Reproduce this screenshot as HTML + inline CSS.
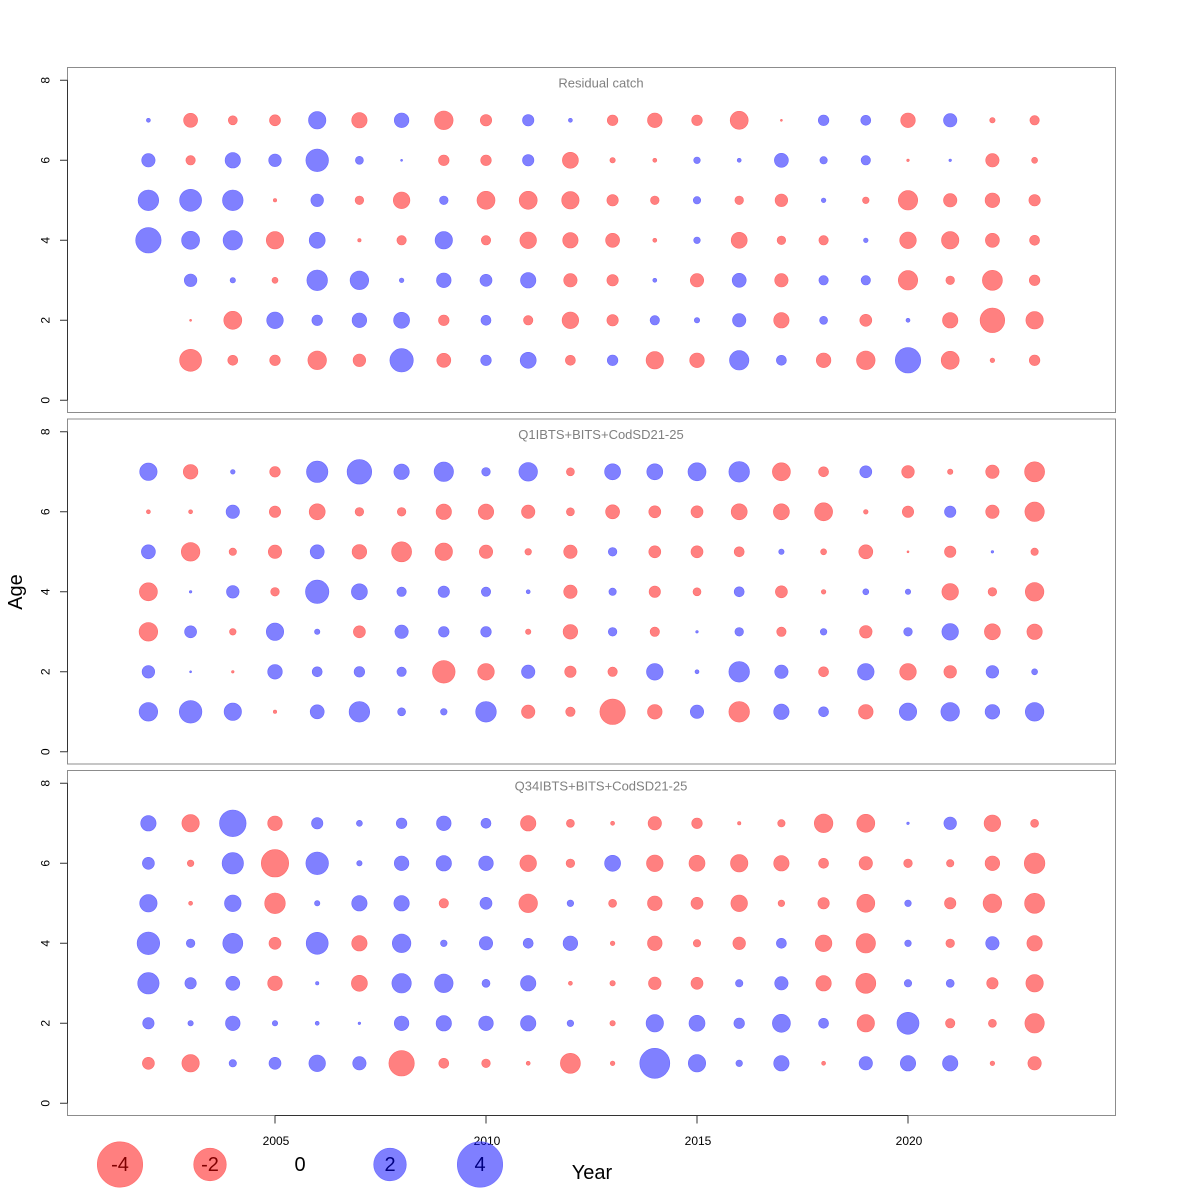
<!DOCTYPE html>
<html><head><meta charset="utf-8"><style>
html,body{margin:0;padding:0;background:#fff;}
svg{display:block;font-family:"Liberation Sans",Arial,sans-serif;}
.n{fill:#ff8080;stroke:#ff6a6a;stroke-width:0.6}
.p{fill:#8080ff;stroke:#6a6aff;stroke-width:0.6}
.box{fill:none;stroke:#8c8c8c;stroke-width:1}
.ax{stroke:#333;stroke-width:1;fill:none}
.yl{font-size:12px;fill:#000}
.tt{font-size:13px;fill:#808080}
</style></head><body>
<svg width="1200" height="1200" viewBox="0 0 1200 1200" xmlns="http://www.w3.org/2000/svg">
<rect width="1200" height="1200" fill="#fff"/>

<!-- PANEL 1 -->
<g>
<rect class="box" x="67.5" y="67.5" width="1048" height="345"/>
<path class="ax" d="M67.5 400.3V80.3M60 400.3H67.5M60 320.3H67.5M60 240.3H67.5M60 160.3H67.5M60 80.3H67.5"/>
<text class="yl" text-anchor="middle" transform="translate(49.5,400.3) rotate(-90)">0</text>
<text class="yl" text-anchor="middle" transform="translate(49.5,320.3) rotate(-90)">2</text>
<text class="yl" text-anchor="middle" transform="translate(49.5,240.3) rotate(-90)">4</text>
<text class="yl" text-anchor="middle" transform="translate(49.5,160.3) rotate(-90)">6</text>
<text class="yl" text-anchor="middle" transform="translate(49.5,80.3) rotate(-90)">8</text>
<text class="tt" x="601" y="87.5" text-anchor="middle">Residual catch</text>
<g transform="translate(0,120.3)">
<circle cx="148.4" r="2" class="p"/><circle cx="190.6" r="7" class="n"/><circle cx="232.8" r="4.5" class="n"/><circle cx="275" r="5.5" class="n"/><circle cx="317.2" r="8.7" class="p"/><circle cx="359.4" r="7.7" class="n"/><circle cx="401.6" r="7.3" class="p"/><circle cx="443.8" r="9.3" class="n"/><circle cx="486" r="5.7" class="n"/><circle cx="528.2" r="5.7" class="p"/><circle cx="570.4" r="2" class="p"/><circle cx="612.6" r="5.3" class="n"/><circle cx="654.8" r="7.3" class="n"/><circle cx="697" r="5.3" class="n"/><circle cx="739.2" r="9" class="n"/><circle cx="781.4" r="1" class="n"/><circle cx="823.6" r="5.3" class="p"/><circle cx="865.8" r="5" class="p"/><circle cx="908" r="7.3" class="n"/><circle cx="950.2" r="6.7" class="p"/><circle cx="992.4" r="2.7" class="n"/><circle cx="1034.6" r="4.7" class="n"/>
</g>
<g transform="translate(0,160.3)">
<circle cx="148.4" r="6.7" class="p"/><circle cx="190.6" r="4.7" class="n"/><circle cx="232.8" r="7.7" class="p"/><circle cx="275" r="6.3" class="p"/><circle cx="317.2" r="11.3" class="p"/><circle cx="359.4" r="4" class="p"/><circle cx="401.6" r="1" class="p"/><circle cx="443.8" r="5.3" class="n"/><circle cx="486" r="5.3" class="n"/><circle cx="528.2" r="5.7" class="p"/><circle cx="570.4" r="8" class="n"/><circle cx="612.6" r="2.7" class="n"/><circle cx="654.8" r="2" class="n"/><circle cx="697" r="3.3" class="p"/><circle cx="739.2" r="2" class="p"/><circle cx="781.4" r="7" class="p"/><circle cx="823.6" r="3.7" class="p"/><circle cx="865.8" r="4.7" class="p"/><circle cx="908" r="1.3" class="n"/><circle cx="950.2" r="1.3" class="p"/><circle cx="992.4" r="6.7" class="n"/><circle cx="1034.6" r="3" class="n"/>
</g>
<g transform="translate(0,200.3)">
<circle cx="148.4" r="10.3" class="p"/><circle cx="190.6" r="11" class="p"/><circle cx="232.8" r="10.3" class="p"/><circle cx="275" r="1.7" class="n"/><circle cx="317.2" r="6.3" class="p"/><circle cx="359.4" r="4.3" class="n"/><circle cx="401.6" r="8.3" class="n"/><circle cx="443.8" r="4.3" class="p"/><circle cx="486" r="9" class="n"/><circle cx="528.2" r="9" class="n"/><circle cx="570.4" r="8.7" class="n"/><circle cx="612.6" r="5.7" class="n"/><circle cx="654.8" r="4.3" class="n"/><circle cx="697" r="3.7" class="p"/><circle cx="739.2" r="4.3" class="n"/><circle cx="781.4" r="6.3" class="n"/><circle cx="823.6" r="2.3" class="p"/><circle cx="865.8" r="3.3" class="n"/><circle cx="908" r="9.7" class="n"/><circle cx="950.2" r="6.7" class="n"/><circle cx="992.4" r="7.3" class="n"/><circle cx="1034.6" r="5.7" class="n"/>
</g>
<g transform="translate(0,240.3)">
<circle cx="148.4" r="12.7" class="p"/><circle cx="190.6" r="9" class="p"/><circle cx="232.8" r="9.7" class="p"/><circle cx="275" r="8.7" class="n"/><circle cx="317.2" r="8" class="p"/><circle cx="359.4" r="1.7" class="n"/><circle cx="401.6" r="4.7" class="n"/><circle cx="443.8" r="8.7" class="p"/><circle cx="486" r="4.7" class="n"/><circle cx="528.2" r="8.3" class="n"/><circle cx="570.4" r="7.7" class="n"/><circle cx="612.6" r="7" class="n"/><circle cx="654.8" r="2" class="n"/><circle cx="697" r="3.3" class="p"/><circle cx="739.2" r="8" class="n"/><circle cx="781.4" r="4.3" class="n"/><circle cx="823.6" r="4.7" class="n"/><circle cx="865.8" r="2.3" class="p"/><circle cx="908" r="8.3" class="n"/><circle cx="950.2" r="8.7" class="n"/><circle cx="992.4" r="7" class="n"/><circle cx="1034.6" r="5" class="n"/>
</g>
<g transform="translate(0,280.3)">
<circle cx="190.6" r="6.3" class="p"/><circle cx="232.8" r="2.7" class="p"/><circle cx="275" r="3" class="n"/><circle cx="317.2" r="10.3" class="p"/><circle cx="359.4" r="9.3" class="p"/><circle cx="401.6" r="2.3" class="p"/><circle cx="443.8" r="7.3" class="p"/><circle cx="486" r="6" class="p"/><circle cx="528.2" r="7.7" class="p"/><circle cx="570.4" r="6.7" class="n"/><circle cx="612.6" r="5.7" class="n"/><circle cx="654.8" r="2" class="p"/><circle cx="697" r="6.7" class="n"/><circle cx="739.2" r="7" class="p"/><circle cx="781.4" r="6.7" class="n"/><circle cx="823.6" r="4.7" class="p"/><circle cx="865.8" r="4.7" class="p"/><circle cx="908" r="9.7" class="n"/><circle cx="950.2" r="4.3" class="n"/><circle cx="992.4" r="10" class="n"/><circle cx="1034.6" r="5.3" class="n"/>
</g>
<g transform="translate(0,320.3)">
<circle cx="190.6" r="1" class="n"/><circle cx="232.8" r="9" class="n"/><circle cx="275" r="8.3" class="p"/><circle cx="317.2" r="5.3" class="p"/><circle cx="359.4" r="7.3" class="p"/><circle cx="401.6" r="8" class="p"/><circle cx="443.8" r="5.3" class="n"/><circle cx="486" r="5" class="p"/><circle cx="528.2" r="4.7" class="n"/><circle cx="570.4" r="8.3" class="n"/><circle cx="612.6" r="5.7" class="n"/><circle cx="654.8" r="4.7" class="p"/><circle cx="697" r="2.7" class="p"/><circle cx="739.2" r="6.7" class="p"/><circle cx="781.4" r="7.7" class="n"/><circle cx="823.6" r="4" class="p"/><circle cx="865.8" r="6" class="n"/><circle cx="908" r="2" class="p"/><circle cx="950.2" r="7.7" class="n"/><circle cx="992.4" r="12.3" class="n"/><circle cx="1034.6" r="8.7" class="n"/>
</g>
<g transform="translate(0,360.3)">
<circle cx="190.6" r="11" class="n"/><circle cx="232.8" r="5" class="n"/><circle cx="275" r="5.3" class="n"/><circle cx="317.2" r="9.3" class="n"/><circle cx="359.4" r="6.3" class="n"/><circle cx="401.6" r="11.7" class="p"/><circle cx="443.8" r="7" class="n"/><circle cx="486" r="5.3" class="p"/><circle cx="528.2" r="8" class="p"/><circle cx="570.4" r="5" class="n"/><circle cx="612.6" r="5.3" class="p"/><circle cx="654.8" r="8.7" class="n"/><circle cx="697" r="7.3" class="n"/><circle cx="739.2" r="9.7" class="p"/><circle cx="781.4" r="5" class="p"/><circle cx="823.6" r="7.3" class="n"/><circle cx="865.8" r="9.3" class="n"/><circle cx="908" r="12.7" class="p"/><circle cx="950.2" r="9" class="n"/><circle cx="992.4" r="2.3" class="n"/><circle cx="1034.6" r="5.3" class="n"/>
</g>
</g>

<!-- PANEL 2 -->
<g transform="translate(0,351.5)">
<rect class="box" x="67.5" y="67.5" width="1048" height="345"/>
<path class="ax" d="M67.5 400.3V80.3M60 400.3H67.5M60 320.3H67.5M60 240.3H67.5M60 160.3H67.5M60 80.3H67.5"/>
<text class="yl" text-anchor="middle" transform="translate(49.5,400.3) rotate(-90)">0</text>
<text class="yl" text-anchor="middle" transform="translate(49.5,320.3) rotate(-90)">2</text>
<text class="yl" text-anchor="middle" transform="translate(49.5,240.3) rotate(-90)">4</text>
<text class="yl" text-anchor="middle" transform="translate(49.5,160.3) rotate(-90)">6</text>
<text class="yl" text-anchor="middle" transform="translate(49.5,80.3) rotate(-90)">8</text>
<text class="tt" x="601" y="87.5" text-anchor="middle">Q1IBTS+BITS+CodSD21-25</text>
<g transform="translate(0,120.3)">
<circle cx="148.4" r="8.7" class="p"/><circle cx="190.6" r="7.3" class="n"/><circle cx="232.8" r="2.3" class="p"/><circle cx="275" r="5.3" class="n"/><circle cx="317.2" r="10.7" class="p"/><circle cx="359.4" r="12.3" class="p"/><circle cx="401.6" r="7.7" class="p"/><circle cx="443.8" r="9.7" class="p"/><circle cx="486" r="4.3" class="p"/><circle cx="528.2" r="9.3" class="p"/><circle cx="570.4" r="4" class="n"/><circle cx="612.6" r="8" class="p"/><circle cx="654.8" r="8" class="p"/><circle cx="697" r="9" class="p"/><circle cx="739.2" r="10.3" class="p"/><circle cx="781.4" r="9" class="n"/><circle cx="823.6" r="5" class="n"/><circle cx="865.8" r="6" class="p"/><circle cx="908" r="6.3" class="n"/><circle cx="950.2" r="2.7" class="n"/><circle cx="992.4" r="6.7" class="n"/><circle cx="1034.6" r="10" class="n"/>
</g>
<g transform="translate(0,160.3)">
<circle cx="148.4" r="2" class="n"/><circle cx="190.6" r="2" class="n"/><circle cx="232.8" r="6.7" class="p"/><circle cx="275" r="5.7" class="n"/><circle cx="317.2" r="8" class="n"/><circle cx="359.4" r="4.3" class="n"/><circle cx="401.6" r="4.3" class="n"/><circle cx="443.8" r="7.7" class="n"/><circle cx="486" r="7.7" class="n"/><circle cx="528.2" r="6.7" class="n"/><circle cx="570.4" r="4" class="n"/><circle cx="612.6" r="7" class="n"/><circle cx="654.8" r="6" class="n"/><circle cx="697" r="6" class="n"/><circle cx="739.2" r="8" class="n"/><circle cx="781.4" r="8" class="n"/><circle cx="823.6" r="9" class="n"/><circle cx="865.8" r="2.3" class="n"/><circle cx="908" r="5.7" class="n"/><circle cx="950.2" r="5.7" class="p"/><circle cx="992.4" r="6.7" class="n"/><circle cx="1034.6" r="9.7" class="n"/>
</g>
<g transform="translate(0,200.3)">
<circle cx="148.4" r="7" class="p"/><circle cx="190.6" r="9.3" class="n"/><circle cx="232.8" r="3.7" class="n"/><circle cx="275" r="6.7" class="n"/><circle cx="317.2" r="7" class="p"/><circle cx="359.4" r="7.3" class="n"/><circle cx="401.6" r="10" class="n"/><circle cx="443.8" r="8.7" class="n"/><circle cx="486" r="6.7" class="n"/><circle cx="528.2" r="3.3" class="n"/><circle cx="570.4" r="6.7" class="n"/><circle cx="612.6" r="4.3" class="p"/><circle cx="654.8" r="6" class="n"/><circle cx="697" r="6" class="n"/><circle cx="739.2" r="5" class="n"/><circle cx="781.4" r="2.7" class="p"/><circle cx="823.6" r="3" class="n"/><circle cx="865.8" r="7" class="n"/><circle cx="908" r="1" class="n"/><circle cx="950.2" r="5.7" class="n"/><circle cx="992.4" r="1.3" class="p"/><circle cx="1034.6" r="3.7" class="n"/>
</g>
<g transform="translate(0,240.3)">
<circle cx="148.4" r="9" class="n"/><circle cx="190.6" r="1.3" class="p"/><circle cx="232.8" r="6.3" class="p"/><circle cx="275" r="4.3" class="n"/><circle cx="317.2" r="11.7" class="p"/><circle cx="359.4" r="8" class="p"/><circle cx="401.6" r="4.7" class="p"/><circle cx="443.8" r="5.7" class="p"/><circle cx="486" r="4.7" class="p"/><circle cx="528.2" r="2" class="p"/><circle cx="570.4" r="6.7" class="n"/><circle cx="612.6" r="3.7" class="p"/><circle cx="654.8" r="5.7" class="n"/><circle cx="697" r="4" class="n"/><circle cx="739.2" r="5" class="p"/><circle cx="781.4" r="6" class="n"/><circle cx="823.6" r="2.3" class="n"/><circle cx="865.8" r="3" class="p"/><circle cx="908" r="2.7" class="p"/><circle cx="950.2" r="8.3" class="n"/><circle cx="992.4" r="4.3" class="n"/><circle cx="1034.6" r="9.3" class="n"/>
</g>
<g transform="translate(0,280.3)">
<circle cx="148.4" r="9.3" class="n"/><circle cx="190.6" r="6" class="p"/><circle cx="232.8" r="3.3" class="n"/><circle cx="275" r="8.7" class="p"/><circle cx="317.2" r="2.7" class="p"/><circle cx="359.4" r="6" class="n"/><circle cx="401.6" r="6.7" class="p"/><circle cx="443.8" r="5.3" class="p"/><circle cx="486" r="5.3" class="p"/><circle cx="528.2" r="2.7" class="n"/><circle cx="570.4" r="7.3" class="n"/><circle cx="612.6" r="4.3" class="p"/><circle cx="654.8" r="4.7" class="n"/><circle cx="697" r="1.3" class="p"/><circle cx="739.2" r="4.3" class="p"/><circle cx="781.4" r="4.7" class="n"/><circle cx="823.6" r="3.3" class="p"/><circle cx="865.8" r="6.3" class="n"/><circle cx="908" r="4.3" class="p"/><circle cx="950.2" r="8.3" class="p"/><circle cx="992.4" r="8" class="n"/><circle cx="1034.6" r="7.7" class="n"/>
</g>
<g transform="translate(0,320.3)">
<circle cx="148.4" r="6.3" class="p"/><circle cx="190.6" r="1" class="p"/><circle cx="232.8" r="1.3" class="n"/><circle cx="275" r="7.3" class="p"/><circle cx="317.2" r="5" class="p"/><circle cx="359.4" r="5.3" class="p"/><circle cx="401.6" r="4.7" class="p"/><circle cx="443.8" r="11.3" class="n"/><circle cx="486" r="8.3" class="n"/><circle cx="528.2" r="6.7" class="p"/><circle cx="570.4" r="5.7" class="n"/><circle cx="612.6" r="4.7" class="n"/><circle cx="654.8" r="8.3" class="p"/><circle cx="697" r="2" class="p"/><circle cx="739.2" r="10.3" class="p"/><circle cx="781.4" r="6.7" class="p"/><circle cx="823.6" r="5" class="n"/><circle cx="865.8" r="8.3" class="p"/><circle cx="908" r="8.3" class="n"/><circle cx="950.2" r="6.3" class="n"/><circle cx="992.4" r="6.3" class="p"/><circle cx="1034.6" r="3" class="p"/>
</g>
<g transform="translate(0,360.3)">
<circle cx="148.4" r="9.3" class="p"/><circle cx="190.6" r="11.3" class="p"/><circle cx="232.8" r="8.7" class="p"/><circle cx="275" r="1.7" class="n"/><circle cx="317.2" r="7" class="p"/><circle cx="359.4" r="10.3" class="p"/><circle cx="401.6" r="4" class="p"/><circle cx="443.8" r="3.3" class="p"/><circle cx="486" r="10.3" class="p"/><circle cx="528.2" r="6.7" class="n"/><circle cx="570.4" r="4.7" class="n"/><circle cx="612.6" r="12.7" class="n"/><circle cx="654.8" r="7.3" class="n"/><circle cx="697" r="6.7" class="p"/><circle cx="739.2" r="10.3" class="n"/><circle cx="781.4" r="7.7" class="p"/><circle cx="823.6" r="5" class="p"/><circle cx="865.8" r="7.3" class="n"/><circle cx="908" r="8.7" class="p"/><circle cx="950.2" r="9.3" class="p"/><circle cx="992.4" r="7.3" class="p"/><circle cx="1034.6" r="9.3" class="p"/>
</g>
</g>

<!-- PANEL 3 -->
<g transform="translate(0,703)">
<rect class="box" x="67.5" y="67.5" width="1048" height="345"/>
<path class="ax" d="M67.5 400.3V80.3M60 400.3H67.5M60 320.3H67.5M60 240.3H67.5M60 160.3H67.5M60 80.3H67.5"/>
<text class="yl" text-anchor="middle" transform="translate(49.5,400.3) rotate(-90)">0</text>
<text class="yl" text-anchor="middle" transform="translate(49.5,320.3) rotate(-90)">2</text>
<text class="yl" text-anchor="middle" transform="translate(49.5,240.3) rotate(-90)">4</text>
<text class="yl" text-anchor="middle" transform="translate(49.5,160.3) rotate(-90)">6</text>
<text class="yl" text-anchor="middle" transform="translate(49.5,80.3) rotate(-90)">8</text>
<text class="tt" x="601" y="87.5" text-anchor="middle">Q34IBTS+BITS+CodSD21-25</text>
<g transform="translate(0,120.3)">
<circle cx="148.4" r="7.7" class="p"/><circle cx="190.6" r="8.7" class="n"/><circle cx="232.8" r="13.3" class="p"/><circle cx="275" r="7.3" class="n"/><circle cx="317.2" r="5.7" class="p"/><circle cx="359.4" r="3" class="p"/><circle cx="401.6" r="5.3" class="p"/><circle cx="443.8" r="7.3" class="p"/><circle cx="486" r="5" class="p"/><circle cx="528.2" r="7.7" class="n"/><circle cx="570.4" r="4" class="n"/><circle cx="612.6" r="2" class="n"/><circle cx="654.8" r="6.7" class="n"/><circle cx="697" r="5.3" class="n"/><circle cx="739.2" r="1.7" class="n"/><circle cx="781.4" r="3.7" class="n"/><circle cx="823.6" r="9.3" class="n"/><circle cx="865.8" r="9" class="n"/><circle cx="908" r="1.3" class="p"/><circle cx="950.2" r="6.3" class="p"/><circle cx="992.4" r="8.3" class="n"/><circle cx="1034.6" r="4" class="n"/>
</g>
<g transform="translate(0,160.3)">
<circle cx="148.4" r="6" class="p"/><circle cx="190.6" r="3.3" class="n"/><circle cx="232.8" r="10.7" class="p"/><circle cx="275" r="13.7" class="n"/><circle cx="317.2" r="11.3" class="p"/><circle cx="359.4" r="2.7" class="p"/><circle cx="401.6" r="7.3" class="p"/><circle cx="443.8" r="7.7" class="p"/><circle cx="486" r="7.3" class="p"/><circle cx="528.2" r="8.3" class="n"/><circle cx="570.4" r="4.3" class="n"/><circle cx="612.6" r="8" class="p"/><circle cx="654.8" r="8.3" class="n"/><circle cx="697" r="8" class="n"/><circle cx="739.2" r="8.7" class="n"/><circle cx="781.4" r="7.7" class="n"/><circle cx="823.6" r="5" class="n"/><circle cx="865.8" r="6.7" class="n"/><circle cx="908" r="4.3" class="n"/><circle cx="950.2" r="3.7" class="n"/><circle cx="992.4" r="7.3" class="n"/><circle cx="1034.6" r="10.3" class="n"/>
</g>
<g transform="translate(0,200.3)">
<circle cx="148.4" r="8.7" class="p"/><circle cx="190.6" r="2" class="n"/><circle cx="232.8" r="8.3" class="p"/><circle cx="275" r="10.3" class="n"/><circle cx="317.2" r="2.7" class="p"/><circle cx="359.4" r="7.7" class="p"/><circle cx="401.6" r="7.7" class="p"/><circle cx="443.8" r="4.7" class="n"/><circle cx="486" r="6" class="p"/><circle cx="528.2" r="9.3" class="n"/><circle cx="570.4" r="3.3" class="p"/><circle cx="612.6" r="4" class="n"/><circle cx="654.8" r="7.3" class="n"/><circle cx="697" r="6" class="n"/><circle cx="739.2" r="8.3" class="n"/><circle cx="781.4" r="3.3" class="n"/><circle cx="823.6" r="5.7" class="n"/><circle cx="865.8" r="9" class="n"/><circle cx="908" r="3.3" class="p"/><circle cx="950.2" r="5.7" class="n"/><circle cx="992.4" r="9.3" class="n"/><circle cx="1034.6" r="10" class="n"/>
</g>
<g transform="translate(0,240.3)">
<circle cx="148.4" r="11.3" class="p"/><circle cx="190.6" r="4.3" class="p"/><circle cx="232.8" r="10" class="p"/><circle cx="275" r="6" class="n"/><circle cx="317.2" r="11" class="p"/><circle cx="359.4" r="7.7" class="n"/><circle cx="401.6" r="9.3" class="p"/><circle cx="443.8" r="3.3" class="p"/><circle cx="486" r="6.7" class="p"/><circle cx="528.2" r="5" class="p"/><circle cx="570.4" r="7.3" class="p"/><circle cx="612.6" r="2.3" class="n"/><circle cx="654.8" r="7.3" class="n"/><circle cx="697" r="3.7" class="n"/><circle cx="739.2" r="6.3" class="n"/><circle cx="781.4" r="5" class="p"/><circle cx="823.6" r="8.3" class="n"/><circle cx="865.8" r="9.7" class="n"/><circle cx="908" r="3.3" class="p"/><circle cx="950.2" r="4.3" class="n"/><circle cx="992.4" r="6.7" class="p"/><circle cx="1034.6" r="7.7" class="n"/>
</g>
<g transform="translate(0,280.3)">
<circle cx="148.4" r="10.7" class="p"/><circle cx="190.6" r="5.7" class="p"/><circle cx="232.8" r="7" class="p"/><circle cx="275" r="7.3" class="n"/><circle cx="317.2" r="1.7" class="p"/><circle cx="359.4" r="8" class="n"/><circle cx="401.6" r="9.7" class="p"/><circle cx="443.8" r="9.3" class="p"/><circle cx="486" r="4" class="p"/><circle cx="528.2" r="7.7" class="p"/><circle cx="570.4" r="2" class="n"/><circle cx="612.6" r="2.7" class="n"/><circle cx="654.8" r="6.3" class="n"/><circle cx="697" r="6" class="n"/><circle cx="739.2" r="3.7" class="p"/><circle cx="781.4" r="6.7" class="p"/><circle cx="823.6" r="7.7" class="n"/><circle cx="865.8" r="10" class="n"/><circle cx="908" r="3.7" class="p"/><circle cx="950.2" r="4" class="p"/><circle cx="992.4" r="5.7" class="n"/><circle cx="1034.6" r="8.7" class="n"/>
</g>
<g transform="translate(0,320.3)">
<circle cx="148.4" r="5.7" class="p"/><circle cx="190.6" r="2.7" class="p"/><circle cx="232.8" r="7.3" class="p"/><circle cx="275" r="2.7" class="p"/><circle cx="317.2" r="2" class="p"/><circle cx="359.4" r="1.3" class="p"/><circle cx="401.6" r="7.3" class="p"/><circle cx="443.8" r="7.7" class="p"/><circle cx="486" r="7.3" class="p"/><circle cx="528.2" r="7.7" class="p"/><circle cx="570.4" r="3.3" class="p"/><circle cx="612.6" r="2.7" class="n"/><circle cx="654.8" r="8.7" class="p"/><circle cx="697" r="8" class="p"/><circle cx="739.2" r="5.3" class="p"/><circle cx="781.4" r="9" class="p"/><circle cx="823.6" r="5" class="p"/><circle cx="865.8" r="8.7" class="n"/><circle cx="908" r="11" class="p"/><circle cx="950.2" r="4.7" class="n"/><circle cx="992.4" r="4" class="n"/><circle cx="1034.6" r="9.7" class="n"/>
</g>
<g transform="translate(0,360.3)">
<circle cx="148.4" r="6" class="n"/><circle cx="190.6" r="8.7" class="n"/><circle cx="232.8" r="3.7" class="p"/><circle cx="275" r="6" class="p"/><circle cx="317.2" r="8.3" class="p"/><circle cx="359.4" r="6.7" class="p"/><circle cx="401.6" r="12.7" class="n"/><circle cx="443.8" r="5" class="n"/><circle cx="486" r="4.3" class="n"/><circle cx="528.2" r="2" class="n"/><circle cx="570.4" r="10" class="n"/><circle cx="612.6" r="2.3" class="n"/><circle cx="654.8" r="15" class="p"/><circle cx="697" r="8.7" class="p"/><circle cx="739.2" r="3.3" class="p"/><circle cx="781.4" r="7.7" class="p"/><circle cx="823.6" r="2" class="n"/><circle cx="865.8" r="6.7" class="p"/><circle cx="908" r="7.7" class="p"/><circle cx="950.2" r="7.7" class="p"/><circle cx="992.4" r="2.3" class="n"/><circle cx="1034.6" r="6.7" class="n"/>
</g>
</g>

<!-- X axis -->
<path class="ax" d="M275 1115.5H908M275 1115.5V1123.5M486 1115.5V1123.5M697 1115.5V1123.5M908 1115.5V1123.5"/>
<g font-size="12" text-anchor="middle" fill="#000">
<text x="276" y="1145">2005</text>
<text x="487" y="1145">2010</text>
<text x="698" y="1145">2015</text>
<text x="909" y="1145">2020</text>
</g>

<!-- Axis titles -->
<text x="592" y="1179" font-size="20" text-anchor="middle" fill="#000">Year</text>
<text transform="translate(22,592) rotate(-90)" font-size="20" text-anchor="middle" fill="#000">Age</text>

<!-- Legend -->
<g font-size="20" text-anchor="middle" fill="#000">
<text x="120" y="1171">-4</text>
<text x="210" y="1171">-2</text>
<text x="300" y="1171">0</text>
<text x="390" y="1171">2</text>
<text x="480" y="1171">4</text>
</g>
<circle cx="120" cy="1164.5" r="22.7" fill="#ff0000" fill-opacity="0.5" stroke="#ff6a6a" stroke-width="0.6"/>
<circle cx="210" cy="1164.5" r="16.3" fill="#ff0000" fill-opacity="0.5" stroke="#ff6a6a" stroke-width="0.6"/>
<circle cx="390" cy="1164.5" r="16.3" fill="#0000ff" fill-opacity="0.5" stroke="#6a6aff" stroke-width="0.6"/>
<circle cx="480" cy="1164.5" r="22.7" fill="#0000ff" fill-opacity="0.5" stroke="#6a6aff" stroke-width="0.6"/>
</svg>
</body></html>
